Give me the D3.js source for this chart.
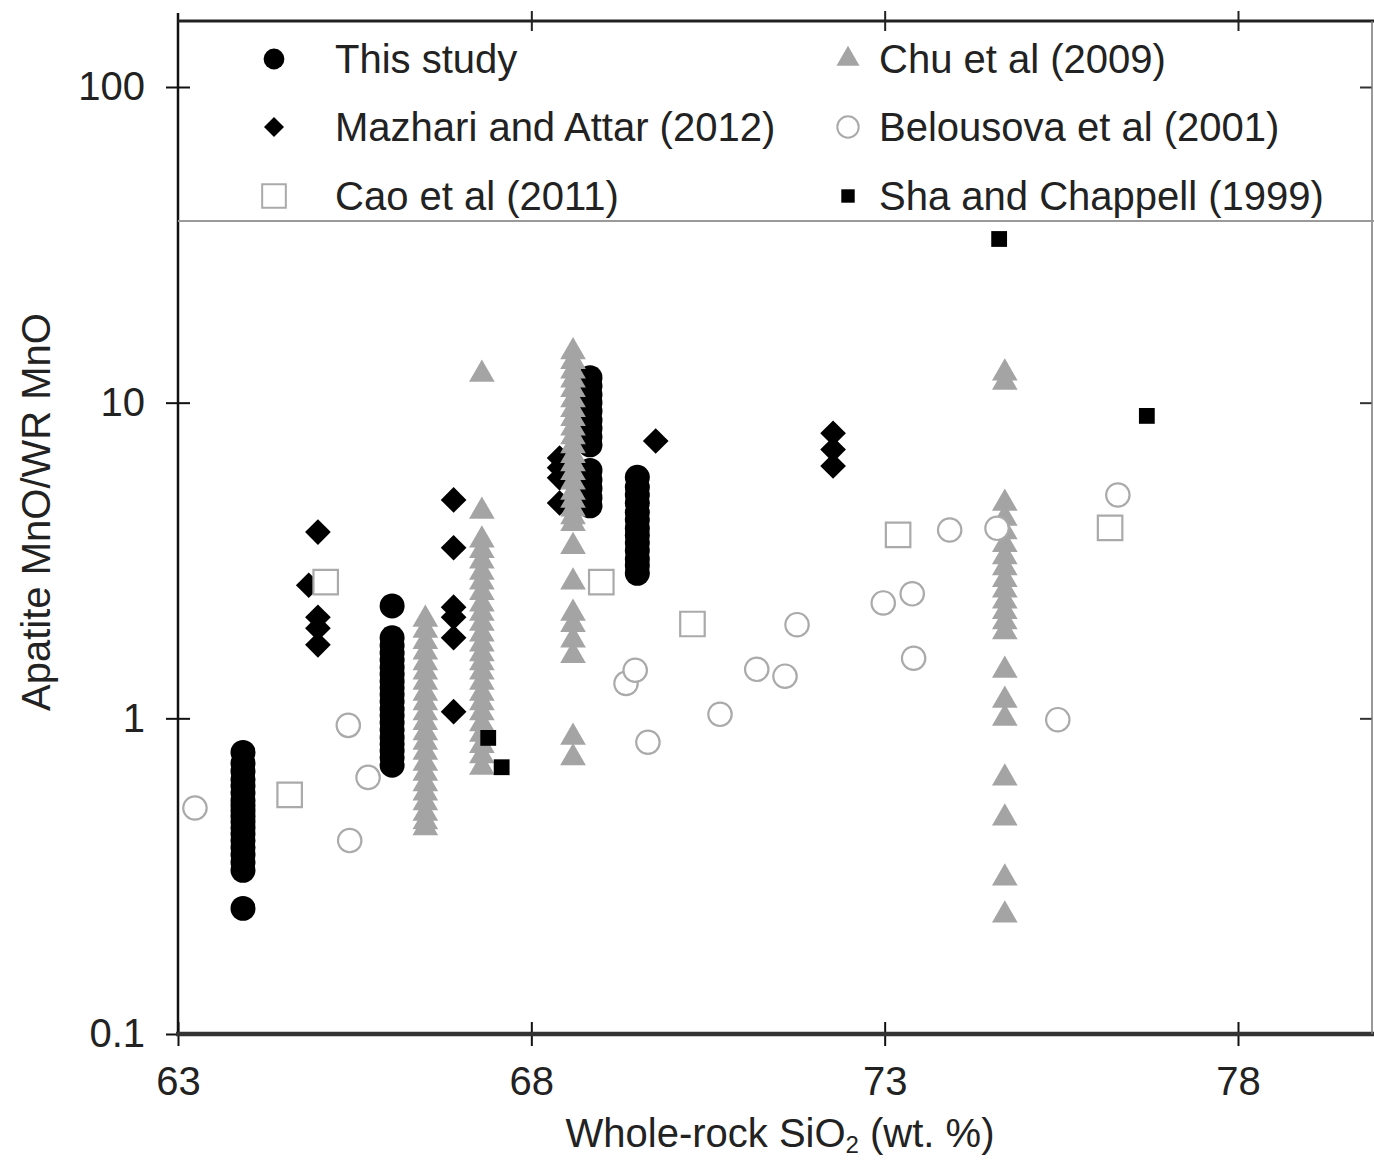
<!DOCTYPE html>
<html>
<head>
<meta charset="utf-8">
<script src="https://cdn.jsdelivr.net/npm/d3@7"></script>
<style>
  html, body { margin: 0; padding: 0; background: #fff; }
  svg { display: block; font-family: "Liberation Sans", Arial, sans-serif; }
</style>
</head>
<body>
<svg id="chart" width="1374" height="1162"></svg>
<script>
// ---------- DATA ----------
const seriesNames = ["This study", "Mazhari and Attar (2012)", "Cao et al (2011)",
                     "Chu et al (2009)", "Belousova et al (2001)", "Sha and Chappell (1999)"];

const xTicks = [63, 68, 73, 78];
const xTickLabels = ["63", "68", "73", "78"];
const yTicks = [0.1, 1, 10, 100];
const yTickLabels = ["0.1", "1", "10", "100"];

// This study (black circles): [SiO2, ratio]
const thisStudy = [
  [63.92, 0.78],[63.92, 0.72],[63.92, 0.68],[63.92, 0.64],[63.92, 0.61],[63.92, 0.58],[63.92, 0.55],
  [63.92, 0.53],[63.92, 0.51],[63.92, 0.49],[63.92, 0.47],[63.92, 0.45],[63.92, 0.43],[63.92, 0.41],
  [63.92, 0.39],[63.92, 0.37],[63.92, 0.35],[63.92, 0.33],[63.92, 0.25],
  [66.03, 2.27],[66.03, 1.80],[66.03, 1.70],[66.03, 1.61],[66.03, 1.53],[66.03, 1.45],[66.03, 1.38],
  [66.03, 1.31],[66.03, 1.25],[66.03, 1.19],[66.03, 1.13],[66.03, 1.07],[66.03, 1.02],[66.03, 0.97],
  [66.03, 0.92],[66.03, 0.87],[66.03, 0.83],[66.03, 0.79],[66.03, 0.75],[66.03, 0.71],
  [68.83, 12.0],[68.83, 11.3],[68.83, 10.6],[68.83, 10.0],[68.83, 9.4],[68.83, 8.8],[68.83, 8.3],
  [68.83, 7.8],[68.83, 7.35],[68.83, 6.1],[68.83, 5.7],[68.83, 5.35],[68.83, 5.0],[68.83, 4.71],
  [69.5, 5.8],[69.5, 5.4],[69.5, 5.1],[69.5, 4.8],[69.5, 4.5],[69.5, 4.25],[69.5, 4.0],
  [69.5, 3.8],[69.5, 3.6],[69.5, 3.4],[69.5, 3.2],[69.5, 3.05],[69.5, 2.88]
];

// Mazhari and Attar (2012) (black diamonds)
const mazhari = [
  [64.98, 3.89],[64.85, 2.64],[64.98, 2.09],[64.98, 1.93],[64.98, 1.71],
  [66.9, 4.92],[66.9, 3.47],[66.9, 2.25],[66.9, 2.09],[66.9, 1.80],[66.9, 1.05],
  [68.4, 6.68],[68.4, 6.22],[68.4, 5.78],[68.4, 4.81],
  [69.76, 7.56],
  [72.27, 8.0],[72.27, 7.1],[72.27, 6.3]
];

// Chu et al (2009) (grey triangles)
const chu = [
  [66.5, 2.06],[66.5, 1.9],[66.5, 1.75],[66.5, 1.62],[66.5, 1.5],[66.5, 1.4],[66.5, 1.3],[66.5, 1.2],
  [66.5, 1.12],[66.5, 1.04],[66.5, 0.97],[66.5, 0.9],[66.5, 0.84],[66.5, 0.78],[66.5, 0.72],[66.5, 0.67],
  [66.5, 0.62],[66.5, 0.58],[66.5, 0.54],[66.5, 0.5],[66.5, 0.47],[66.5, 0.45],
  [67.3, 12.3],[67.3, 4.53],[67.3, 3.67],[67.3, 3.4],[67.3, 3.15],[67.3, 2.9],[67.3, 2.7],[67.3, 2.5],
  [67.3, 2.3],[67.3, 2.15],[67.3, 2.0],[67.3, 1.85],[67.3, 1.72],[67.3, 1.6],[67.3, 1.5],[67.3, 1.4],
  [67.3, 1.3],[67.3, 1.2],[67.3, 1.12],[67.3, 1.04],[67.3, 0.96],[67.3, 0.89],[67.3, 0.82],[67.3, 0.76],
  [67.3, 0.70],
  [68.59, 14.5],[68.59, 13.5],[68.59, 12.6],[68.59, 11.8],[68.59, 11.0],[68.59, 10.2],[68.59, 9.5],
  [68.59, 8.9],[68.59, 8.3],[68.59, 7.8],[68.59, 7.3],[68.59, 6.8],[68.59, 6.4],[68.59, 6.0],[68.59, 5.6],
  [68.59, 5.2],[68.59, 4.9],[68.59, 4.6],[68.59, 4.35],[68.59, 4.14],[68.59, 3.5],[68.59, 2.7],
  [68.59, 2.15],[68.59, 1.98],[68.59, 1.77],[68.59, 1.58],[68.59, 0.87],[68.59, 0.75],
  [74.7, 12.4],[74.7, 11.6],[74.7, 4.8],[74.7, 4.3],[74.7, 3.9],[74.7, 3.55],[74.7, 3.25],[74.7, 3.0],
  [74.7, 2.75],[74.7, 2.55],[74.7, 2.35],[74.7, 2.18],[74.7, 2.02],[74.7, 1.88],
  [74.7, 1.42],[74.7, 1.14],[74.7, 1.0],[74.7, 0.647],[74.7, 0.483],[74.7, 0.312],[74.7, 0.238]
];

// Cao et al (2011) (open squares)
const cao = [
  [65.09, 2.70],[64.58, 0.572],[68.99, 2.70],[70.28, 1.99],[73.19, 3.81],[76.19, 4.01]
];

// Belousova et al (2001) (open circles)
const belousova = [
  [63.24, 0.52],[65.41, 0.95],[65.43, 0.41],[65.69, 0.65],[69.34, 1.29],[69.47, 1.42],[69.65, 0.84],
  [70.67, 1.03],[71.19, 1.43],[71.59, 1.36],[71.76, 1.98],[72.98, 2.32],[73.39, 2.48],[73.41, 1.55],
  [73.92, 3.95],[74.59, 4.0],[75.45, 0.99],[76.3, 5.1]
];

// Sha and Chappell (1999) (small black squares)
const sha = [
  [67.39, 0.867],[67.58, 0.70],[74.62, 33.0],[76.71, 9.08]
];

// ---------- DRAW ----------
const svg = d3.select("#chart");
const W = 1374, H = 1162;
const pLeft = 178, pRight = 1372, pTop = 21, pBottom = 1034;

const x = d3.scaleLinear().domain([63, 78]).range([178, 1238]);
const y = d3.scaleLog().domain([0.1, 100]).range([1034, 87]);

const styles = {
  thisStudy: { type: "circle", size: 490, fill: "#000", stroke: "none" },
  mazhari:   { type: "diamond", size: 330, fill: "#000", stroke: "none" },
  chu:       { type: "triangle", size: 285, fill: "#a4a4a4", stroke: "none" },
  cao:       { type: "square", size: 600, fill: "#fff", stroke: "#aaaaaa" },
  belousova: { type: "circle", size: 430, fill: "#fff", stroke: "#aaaaaa" },
  sha:       { type: "square", size: 250, fill: "#000", stroke: "none" }
};
const symType = { circle: d3.symbolCircle, diamond: d3.symbolSquare, triangle: d3.symbolTriangle, square: d3.symbolSquare };

function drawSeries(data, st) {
  const g = svg.append("g");
  g.selectAll("path").data(data).enter().append("path")
    .attr("d", d3.symbol().type(symType[st.type]).size(st.size))
    .attr("transform", d => `translate(${x(d[0])},${y(d[1])})` + (st.type === "diamond" ? " rotate(45)" : ""))
    .attr("fill", st.fill)
    .attr("stroke", st.stroke)
    .attr("stroke-width", st.stroke === "none" ? 0 : 2.2);
}

// draw order
drawSeries(thisStudy, styles.thisStudy);
drawSeries(mazhari, styles.mazhari);
drawSeries(chu, styles.chu);
drawSeries(cao, styles.cao);
drawSeries(belousova, styles.belousova);
drawSeries(sha, styles.sha);

// ---------- AXES ----------
const tickFont = 40;
const gx = svg.append("g").attr("transform", `translate(0,${pBottom})`)
  .call(d3.axisBottom(x).tickValues(xTicks).tickFormat((d, i) => xTickLabels[i]).tickSizeInner(12).tickSizeOuter(0).tickPadding(21));
gx.select(".domain").remove();
gx.selectAll(".tick line").attr("stroke", "#111").attr("stroke-width", 2);
gx.selectAll(".tick text").attr("font-size", tickFont).attr("fill", "#222").attr("font-family", "Liberation Sans, Arial, sans-serif");
const gx2 = svg.append("g").attr("transform", `translate(0,${pBottom})`)
  .call(d3.axisBottom(x).tickValues(xTicks).tickFormat("").tickSizeInner(-12).tickSizeOuter(0));
gx2.select(".domain").remove();
gx2.selectAll(".tick line").attr("stroke", "#111").attr("stroke-width", 2);

const gt = svg.append("g").attr("transform", `translate(0,${pTop})`)
  .call(d3.axisTop(x).tickValues(xTicks.slice(1)).tickFormat("").tickSizeInner(10).tickSizeOuter(0));
gt.select(".domain").remove();
gt.selectAll(".tick line").attr("stroke", "#222").attr("stroke-width", 2);
const gt2 = svg.append("g").attr("transform", `translate(0,${pTop})`)
  .call(d3.axisTop(x).tickValues(xTicks.slice(1)).tickFormat("").tickSizeInner(-10).tickSizeOuter(0));
gt2.select(".domain").remove();
gt2.selectAll(".tick line").attr("stroke", "#222").attr("stroke-width", 2);

const gy = svg.append("g").attr("transform", `translate(${pLeft},0)`)
  .call(d3.axisLeft(y).tickValues(yTicks).tickFormat((d, i) => yTickLabels[i]).tickSizeInner(12).tickSizeOuter(0).tickPadding(21));
gy.select(".domain").remove();
gy.selectAll(".tick line").attr("stroke", "#111").attr("stroke-width", 2);
gy.selectAll(".tick text").attr("font-size", tickFont).attr("fill", "#222").attr("font-family", "Liberation Sans, Arial, sans-serif");
const gy2 = svg.append("g").attr("transform", `translate(${pLeft},0)`)
  .call(d3.axisLeft(y).tickValues(yTicks.slice(1)).tickFormat("").tickSizeInner(-12).tickSizeOuter(0));
gy2.select(".domain").remove();
gy2.selectAll(".tick line").attr("stroke", "#111").attr("stroke-width", 2);

const gr = svg.append("g").attr("transform", `translate(${pRight},0)`)
  .call(d3.axisRight(y).tickValues(yTicks.slice(1)).tickFormat("").tickSizeInner(-12).tickSizeOuter(0));
gr.select(".domain").remove();
gr.selectAll(".tick line").attr("stroke", "#333").attr("stroke-width", 2);

// frame lines
svg.append("line").attr("x1", pLeft).attr("x2", pLeft).attr("y1", 13).attr("y2", pBottom + 2)
  .attr("stroke", "#111").attr("stroke-width", 2.5);
svg.append("line").attr("x1", pLeft - 2).attr("x2", W).attr("y1", pBottom).attr("y2", pBottom)
  .attr("stroke", "#333").attr("stroke-width", 4.5);
svg.append("line").attr("x1", pLeft).attr("x2", W).attr("y1", pTop).attr("y2", pTop)
  .attr("stroke", "#222").attr("stroke-width", 3);
svg.append("line").attr("x1", pRight).attr("x2", pRight).attr("y1", pTop).attr("y2", pBottom)
  .attr("stroke", "#777").attr("stroke-width", 1.5);

// ---------- LEGEND ----------
svg.append("line").attr("x1", pLeft).attr("x2", W).attr("y1", 221).attr("y2", 221)
  .attr("stroke", "#9a9a9a").attr("stroke-width", 2);

const legendItems = [
  { name: seriesNames[0], st: styles.thisStudy, col: 0, row: 0, sz: 340 },
  { name: seriesNames[1], st: styles.mazhari, col: 0, row: 1, sz: 200 },
  { name: seriesNames[2], st: styles.cao, col: 0, row: 2, sz: 560 },
  { name: seriesNames[3], st: styles.chu, col: 1, row: 0, sz: 230 },
  { name: seriesNames[4], st: styles.belousova, col: 1, row: 1, sz: 360 },
  { name: seriesNames[5], st: styles.sha, col: 1, row: 2, sz: 180 }
];
const legMarkerX = [274, 848], legTextX = [335, 879], legRowY = [59, 127, 196];
const lg = svg.append("g");
legendItems.forEach(it => {
  lg.append("path")
    .attr("d", d3.symbol().type(symType[it.st.type]).size(it.sz))
    .attr("transform", `translate(${legMarkerX[it.col]},${legRowY[it.row]})` + (it.st.type === "diamond" ? " rotate(45)" : ""))
    .attr("fill", it.st.fill).attr("stroke", it.st.stroke)
    .attr("stroke-width", it.st.stroke === "none" ? 0 : 2);
  lg.append("text")
    .attr("x", legTextX[it.col]).attr("y", legRowY[it.row] + 14)
    .attr("font-size", 40).attr("fill", "#222")
    .text(it.name);
});

// ---------- AXIS TITLES ----------
const xt = svg.append("text").attr("x", 780).attr("y", 1147).attr("text-anchor", "middle")
  .attr("font-size", 40).attr("fill", "#222");
xt.append("tspan").text("Whole-rock SiO");
xt.append("tspan").attr("font-size", 24).attr("dy", 6).text("2");
xt.append("tspan").attr("dy", -6).text(" (wt. %)");

svg.append("text").attr("transform", "translate(50,512) rotate(-90)").attr("text-anchor", "middle")
  .attr("font-size", 40).attr("fill", "#222").text("Apatite MnO/WR MnO");
</script>
</body>
</html>
